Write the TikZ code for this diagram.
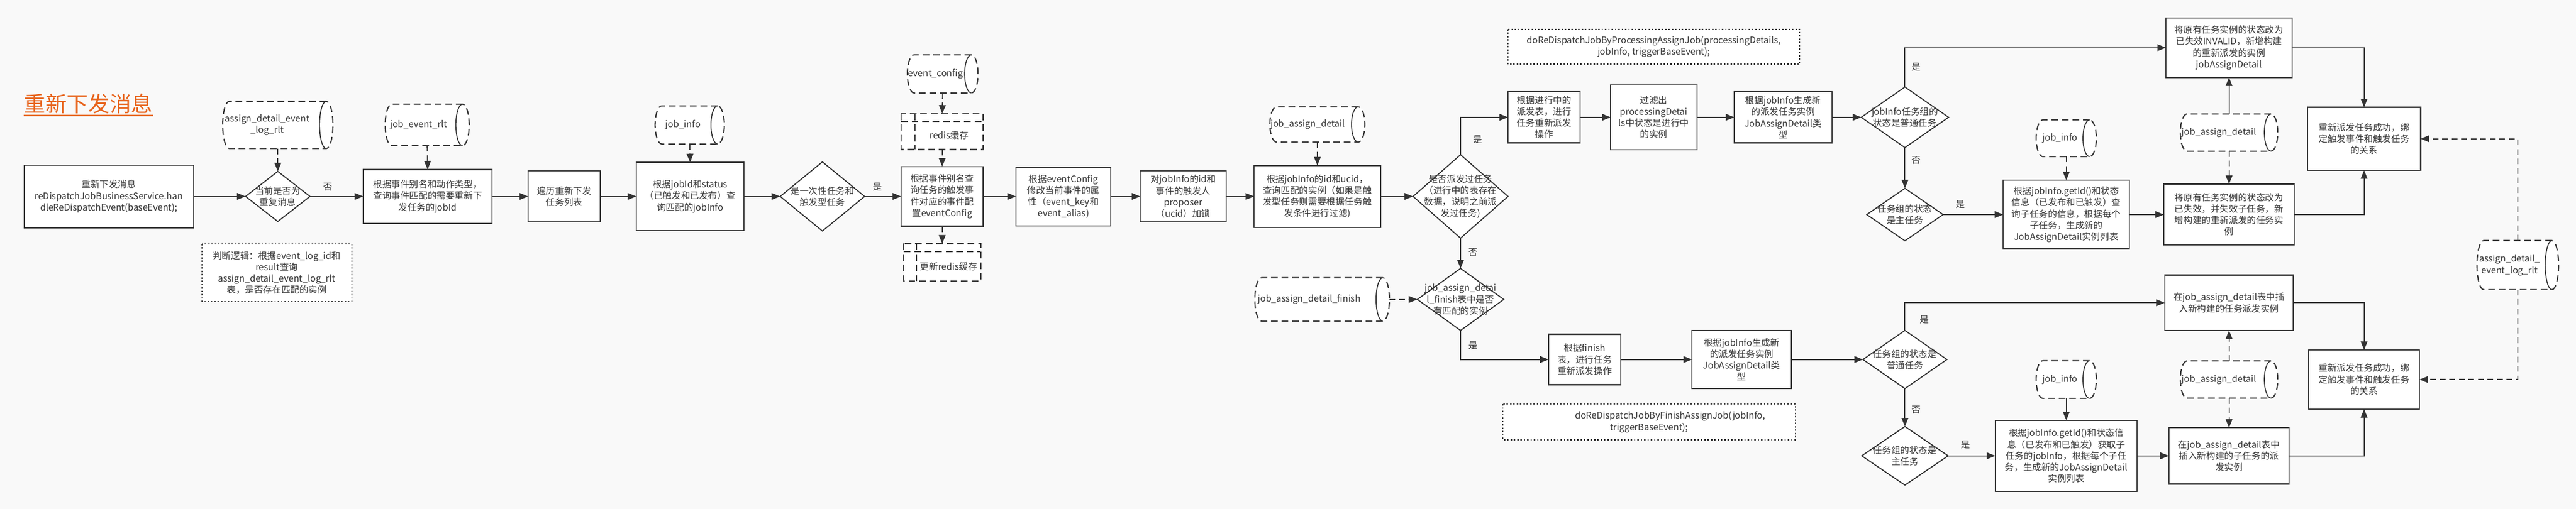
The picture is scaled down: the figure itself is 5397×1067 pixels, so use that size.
\documentclass[tikz,border=0pt]{standalone}
\usepackage{fontspec}
\setmainfont{Noto Sans CJK SC}
\usetikzlibrary{arrows.meta,shapes.geometric,calc}
\definecolor{lc}{HTML}{333333}
\definecolor{tc}{HTML}{333333}
\definecolor{bgc}{HTML}{F9F9F9}
\definecolor{orng}{HTML}{E8641C}
\tikzset{
  txt/.style={align=center, font=\fontsize{19}{24}\selectfont, text=tc, inner sep=0pt},
  anchorbox/.style={shape=rectangle, draw=none, inner sep=0pt, outer sep=0pt},
  boxs/.style={shape=rectangle, draw=lc, line width=2.5pt, fill=white, inner sep=0pt, outer sep=0pt},
  dias/.style={shape=diamond, draw=lc, line width=2.2pt, fill=white, inner sep=0pt, outer sep=0pt},
  dashb/.style={draw=lc, line width=2.5pt, dash pattern=on 14pt off 8pt},
  cylinner/.style={draw=lc, line width=2pt},
  dotb/.style={draw=lc, line width=2.5pt, dash pattern=on 3pt off 4pt},
  conn/.style={draw=lc, line width=2.2pt, -{Triangle[length=18pt,width=14pt]}},
  dconn/.style={conn, dash pattern=on 12pt off 8pt},
}
\newcommand\mybox[6]{%
  \node[boxs, minimum width=#4pt, minimum height=#5pt] (#1) at (#2,#3) {};
  \node[txt] (#1t) at (#1.center) {#6};}
\newcommand\mydia[6]{%
  \node[dias, minimum width=#4pt, minimum height=#5pt] (#1) at (#2,#3) {};
  \node[txt] (#1t) at (#1.center) {#6};}
\newcommand\mynote[6]{%
  \node[anchorbox, minimum width=#4pt, minimum height=#5pt] (#1) at (#2,#3) {};
  \draw[dotb, fill=white] (#1.north west) rectangle (#1.south east);
  \node[txt] (#1t) at (#1.center) {#6};}
\newcommand\mycyl[7]{%
  \node[anchorbox, minimum width=#4pt, minimum height=#5pt] (#1) at (#2,#3) {};
  \draw[dashb, fill=white] ($(#1.north east)+(-14pt,0)$) -- ($(#1.north west)+(14pt,0)$)
     arc[start angle=90, end angle=270, x radius=14pt, y radius=#5*0.5pt]
     -- ($(#1.south east)+(-14pt,0)$)
     arc[start angle=-90, end angle=90, x radius=14pt, y radius=#5*0.5pt] -- cycle;
  \draw[cylinner] ($(#1.north east)+(-14pt,0)$) arc[start angle=90, end angle=270, x radius=14pt, y radius=#5*0.5pt];
  \node[txt] (#1t) at ($(#1.center)+(#6pt,0)$) {#7};}
\newcommand\mystore[8]{%
  \node[anchorbox, minimum width=#4pt, minimum height=#5pt] (#1) at (#2,#3) {};
  \draw[dashb, fill=white] (#1.north west) rectangle (#1.south east);
  \draw[dashb] ($(#1.north west)+(0,-#7pt)$) -- ($(#1.north east)+(0,-#7pt)$);
  \draw[dashb] ($(#1.north west)+(#6pt,0)$) -- ($(#1.south west)+(#6pt,0)$);
  \node[txt] (#1t) at ($(#1.center)+(#6*0.5pt,-#7*0.5pt)$) {#8};}
\begin{document}
\begin{tikzpicture}[x=1pt,y=1pt]
\useasboundingbox (0,0) rectangle (5397,-1067);
\fill[bgc] (0,0) rectangle (5397,-1067);

% title
\node[font=\fontsize{45}{54}\selectfont, text=orng, inner sep=0pt] (title) at (185,-217) {重新下发消息};
\draw[orng, line width=3pt] ($(title.base west)+(0,-8pt)$) -- ($(title.base east)+(0,-8pt)$);

% ---- first row
\mybox{start}{228}{-412}{355}{131}{重新下发消息\\reDispatchJobBusinessService.han\\dleReDispatchEvent(baseEvent);}
\mycyl{cyla}{582}{-262}{231}{99}{-22}{assign\_detail\_event\\\_log\_rlt}
\mydia{da}{582}{-412}{135}{105}{当前是否为\\重复消息}
\mynote{notea}{580}{-572}{314}{121}{判断逻辑：根据event\_log\_id和\\result查询\\assign\_detail\_event\_log\_rlt\\表，是否存在匹配的实例}
\mycyl{cylb}{895}{-262}{176}{87}{-18}{job\_event\_rlt}
\mybox{jobevent}{896}{-412}{270}{113}{根据事件别名和动作类型，\\查询事件匹配的需要重新下\\发任务的jobId}
\mybox{loop}{1182}{-412}{151}{107}{遍历重新下发\\任务列表}
\mycyl{cylc}{1445}{-262}{145}{80}{-14}{job\_info}
\mybox{jobinfo}{1446}{-412}{226}{143}{根据jobId和status\\（已触发和已发布）查\\询匹配的jobInfo}
\mydia{db}{1723}{-412}{177}{145}{是一次性任务和\\触发型任务}
\mycyl{cyld}{1975}{-155}{148}{80}{-15}{event\_config}
\mystore{redis}{1974}{-276}{172}{75}{29}{16}{redis缓存}
\mybox{cfg}{1974}{-412}{172}{125}{根据事件别名查\\询任务的触发事\\件对应的事件配\\置eventConfig}
\mystore{updredis}{1974}{-550}{161}{78}{27}{17}{更新redis缓存}
\mybox{modify}{2228}{-412}{199}{123}{根据eventConfig\\修改当前事件的属\\性（event\_key和\\event\_alias)}
\mybox{lock}{2479}{-412}{180}{107}{对jobInfo的id和\\事件的触发人\\proposer\\（ucid）加锁}
\mycyl{cyle}{2760}{-261}{199}{74}{-20}{job\_assign\_detail}
\mybox{query}{2760}{-412}{265}{130}{根据jobInfo的id和ucid，\\查询匹配的实例（如果是触\\发型任务则需要根据任务触\\发条件进行过滤)}
\mydia{dc}{3060}{-412}{199}{175}{是否派发过任务\\（进行中的表存在\\数据，说明之前派\\发过任务)}
\mydia{dd}{3060}{-628}{181}{130}{job\_assign\_detai\\l\_finish表中是否\\有匹配的实例}
\mycyl{cylf}{2770}{-628}{282}{91}{-27}{job\_assign\_detail\_finish}

% ---- upper branch
\mynote{noteb}{3465}{-98}{611}{73}{doReDispatchJobByProcessingAssignJob(processingDetails,\\jobInfo, triggerBaseEvent);}
\mybox{proc}{3235}{-246}{151}{107}{根据进行中的\\派发表，进行\\任务重新派发\\操作}
\mybox{filter}{3465}{-246}{181}{136}{过滤出\\processingDetai\\ls中状态是进行中\\的实例}
\mybox{gena}{3736}{-246}{205}{107}{根据jobInfo生成新\\的派发任务实例\\JobAssignDetail类\\型}
\mydia{de}{3991}{-246}{183}{127}{jobInfo任务组的\\状态是普通任务}
\mydia{df}{3991}{-450}{160}{110}{任务组的状态\\是主任务}
\mycyl{cylg}{4329}{-290}{126}{77}{-13}{job\_info}
\mybox{sub}{4329}{-450}{264}{144}{根据jobInfo.getId()和状态\\信息（已发布和已触发）查\\询子任务的信息，根据每个\\子任务，生成新的\\JobAssignDetail实例列表}
\mybox{inv}{4670}{-100}{264}{125}{将原有任务实例的状态改为\\已失效INVALID，新增构建\\的重新派发的实例\\jobAssignDetail}
\mycyl{cylh}{4670}{-278}{204}{78}{-21}{job\_assign\_detail}
\mybox{invb}{4670}{-450}{273}{128}{将原有任务实例的状态改为\\已失效，并失效子任务，新\\增构建的重新派发的任务实\\例}
\mybox{fa}{4953}{-291}{237}{132}{重新派发任务成功，绑\\定触发事件和触发任务\\的关系}
\mycyl{cylr}{5275}{-556}{171}{103}{-17}{assign\_detail\_\\event\_log\_rlt}

% ---- lower branch
\mybox{fin}{3320}{-754}{151}{106}{根据finish\\表，进行任务\\重新派发操作}
\mybox{genb}{3649}{-754}{208}{122}{根据jobInfo生成新\\的派发任务实例\\JobAssignDetail类\\型}
\mynote{notec}{3455}{-885}{613}{75}{\hspace*{88pt}doReDispatchJobByFinishAssignJob(jobInfo,\\triggerBaseEvent);}
\mydia{dg}{3991}{-754}{176}{122}{任务组的状态是\\普通任务}
\mydia{dh}{3991}{-956}{181}{123}{任务组的状态是\\主任务}
\mycyl{cyli}{4329}{-796}{126}{79}{-13}{job\_info}
\mybox{subb}{4329}{-956}{297}{149}{根据jobInfo.getId()和状态信\\息（已发布和已触发）获取子\\任务的jobInfo，根据每个子任\\务，生成新的JobAssignDetail\\实例列表}
\mybox{ins}{4670}{-635}{269}{116}{在job\_assign\_detail表中插\\入新构建的任务派发实例}
\mycyl{cylj}{4670}{-796}{204}{78}{-21}{job\_assign\_detail}
\mybox{insb}{4670}{-956}{252}{118}{在job\_assign\_detail表中\\插入新构建的子任务的派\\发实例}
\mybox{fb}{4953}{-796}{232}{124}{重新派发任务成功，绑\\定触发事件和触发任务\\的关系}

% ---- connectors
\draw[conn] (start.east) -- (da.west);
\draw[dconn] (cyla.south) -- (da.north);
\draw[conn] (da.east) -- (jobevent.west);
\draw[dconn] (cylb.south) -- (jobevent.north);
\draw[conn] (jobevent.east) -- (loop.west);
\draw[conn] (loop.east) -- (jobinfo.west);
\draw[dconn] (cylc.south) -- (jobinfo.north);
\draw[conn] (jobinfo.east) -- (db.west);
\draw[conn] (db.east) -- (cfg.west);
\draw[dconn] (cyld.south) -- (redis.north);
\draw[dconn] (redis.south) -- (cfg.north);
\draw[dconn] (cfg.south) -- (updredis.north);
\draw[conn] (cfg.east) -- (modify.west);
\draw[conn] (modify.east) -- (lock.west);
\draw[conn] (lock.east) -- (query.west);
\draw[dconn] (cyle.south) -- (query.north);
\draw[conn] (query.east) -- (dc.west);
\draw[conn] (dc.north) |- (proc.west);
\draw[conn] (dc.south) -- (dd.north);
\draw[dconn] (cylf.east) -- (dd.west);
\draw[conn] (dd.south) |- (fin.west);
\draw[conn] (proc.east) -- (filter.west);
\draw[conn] (filter.east) -- (gena.west);
\draw[conn] (gena.east) -- (de.west);
\draw[conn] (de.north) |- (inv.west);
\draw[conn] (de.south) -- (df.north);
\draw[conn] (df.east) -- (sub.west);
\draw[dconn] (cylg.south) -- (sub.north);
\draw[conn] (sub.east) -- (invb.west);
\draw[conn] (cylh.north) -- (inv.south);
\draw[dconn] (cylh.south) -- (invb.north);
\draw[conn] (inv.east) -| (fa.north);
\draw[conn] (invb.east) -| (fa.south);
\draw[dconn] (cylr.north) |- (fa.east);
\draw[dconn] (cylr.south) |- (fb.east);
\draw[conn] (fin.east) -- (genb.west);
\draw[conn] (genb.east) -- (dg.west);
\draw[conn] (dg.north) |- (ins.west);
\draw[conn] (dg.south) -- (dh.north);
\draw[conn] (dh.east) -- (subb.west);
\draw[conn] (cyli.south) -- (subb.north);
\draw[conn] (subb.east) -- (insb.west);
\draw[dconn] (cylj.north) -- (ins.south);
\draw[dconn] (cylj.south) -- (insb.north);
\draw[conn] (ins.east) -| (fb.north);
\draw[conn] (insb.east) -| (fb.south);

% ---- labels
\node[txt] (la) at (687,-392) {否};
\node[txt] (lb) at (1839,-392) {是};
\node[txt] (lc1) at (3096,-293) {是};
\node[txt] (ld) at (3086,-529) {否};
\node[txt] (le) at (3086,-725) {是};
\node[txt] (lf) at (4015,-140) {是};
\node[txt] (lg) at (4015,-336) {否};
\node[txt] (lh) at (4107,-429) {是};
\node[txt] (li) at (4032,-671) {是};
\node[txt] (lj) at (4015,-859) {否};
\node[txt] (lk) at (4118,-933) {是};
\end{tikzpicture}
\end{document}
